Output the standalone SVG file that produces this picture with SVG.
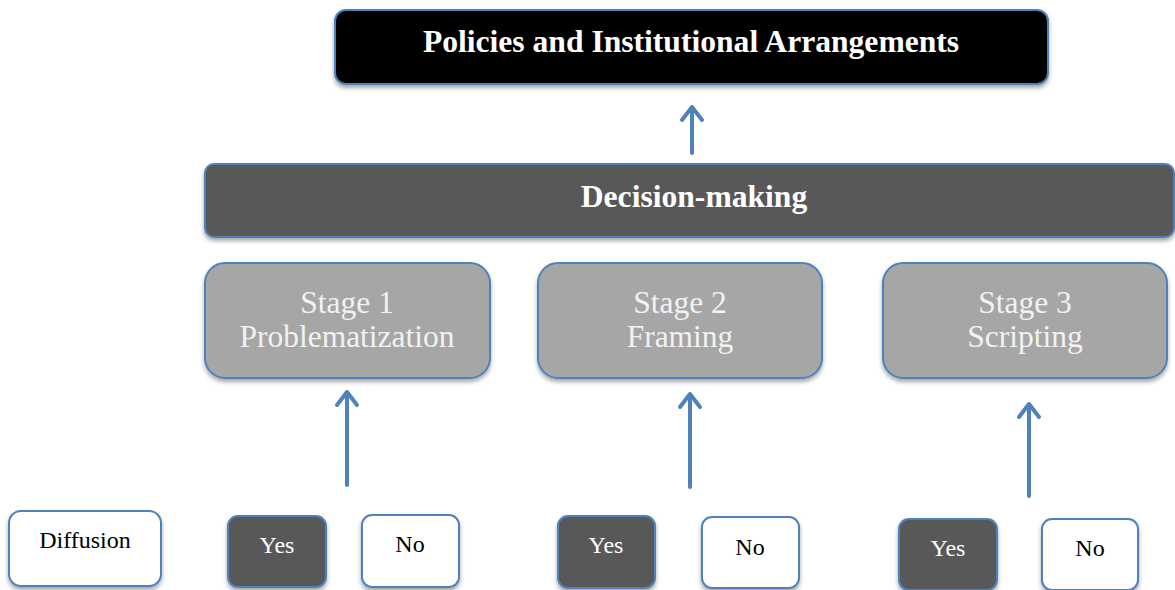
<svg xmlns="http://www.w3.org/2000/svg" width="1175" height="590" viewBox="0 0 1175 590">
<defs>
<filter id="sh" x="-10%" y="-20%" width="120%" height="150%">
<feDropShadow dx="0" dy="3" stdDeviation="2" flood-color="#000" flood-opacity="0.35"/>
</filter>
<style>
.box{stroke:#4f81bd;stroke-width:2;filter:url(#sh)}
.blk{fill:#050505}
.dk{fill:#595959}
.gr{fill:#a6a6a6}
.wh{fill:#ffffff}
text{font-family:"Liberation Serif","Times New Roman",serif;text-anchor:middle}
.tb{font-weight:bold;font-size:31.6px;fill:#ffffff}
.ts{font-size:31.5px;fill:#f2f2f2}
.tw{font-size:24px;fill:#ffffff}
.tk{font-size:24px;fill:#000000}
.ar{stroke:#4f81bd;stroke-width:4;fill:none;stroke-linecap:round;stroke-linejoin:round}
</style>
</defs>
<g id="policies">
<rect class="box blk" x="335" y="10" width="713" height="74" rx="11"/>
<text class="tb" x="691" y="52">Policies and Institutional Arrangements</text>
</g>
<g id="decision">
<rect class="box dk" x="205" y="164" width="969" height="73" rx="9"/>
<text class="tb" x="694" y="207">Decision-making</text>
</g>
<g id="stage1">
<rect class="box gr" x="205" y="263" width="285" height="115" rx="20"/>
<text class="ts" x="347" y="313">Stage 1</text>
<text class="ts" x="347" y="347">Problematization</text>
</g>
<g id="stage2">
<rect class="box gr" x="538" y="263" width="284" height="115" rx="20"/>
<text class="ts" x="680" y="313">Stage 2</text>
<text class="ts" x="680" y="347">Framing</text>
</g>
<g id="stage3">
<rect class="box gr" x="883" y="263" width="284" height="115" rx="20"/>
<text class="ts" x="1025" y="313">Stage 3</text>
<text class="ts" x="1025" y="347">Scripting</text>
</g>
<g id="diffusion">
<rect class="box wh" x="9" y="511" width="152" height="75" rx="12"/>
<text class="tk" x="85" y="548">Diffusion</text>
</g>
<g id="yes1">
<rect class="box dk" x="228" y="516" width="98" height="71" rx="10"/>
<text class="tw" x="277" y="553">Yes</text>
</g>
<g id="no1">
<rect class="box wh" x="362" y="515" width="97" height="72" rx="10"/>
<text class="tk" x="410" y="552">No</text>
</g>
<g id="yes2">
<rect class="box dk" x="558" y="516" width="97" height="72" rx="10"/>
<text class="tw" x="606" y="553">Yes</text>
</g>
<g id="no2">
<rect class="box wh" x="702" y="517" width="97" height="71" rx="10"/>
<text class="tk" x="750" y="555">No</text>
</g>
<g id="yes3">
<rect class="box dk" x="899" y="519" width="98" height="71" rx="10"/>
<text class="tw" x="948" y="556">Yes</text>
</g>
<g id="no3">
<rect class="box wh" x="1042" y="519" width="96" height="71" rx="10"/>
<text class="tk" x="1090" y="556">No</text>
</g>
<g id="connectors" class="ar">
<path d="M692 153 V107 M682 120 L692 107 L702 120"/>
<path d="M347 485 V392 M337 405 L347 392 L357 405"/>
<path d="M690 487 V394 M680 407 L690 394 L700 407"/>
<path d="M1029 496 V404 M1019 417 L1029 404 L1039 417"/>
</g>
</svg>
